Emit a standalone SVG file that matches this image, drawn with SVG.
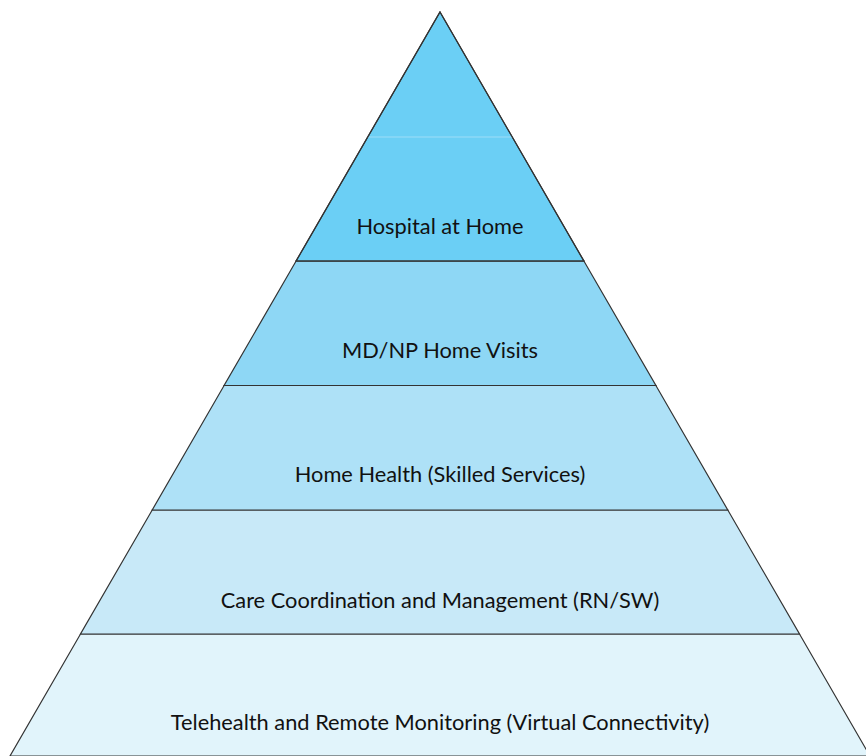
<svg xmlns="http://www.w3.org/2000/svg" width="866" height="756" viewBox="0 0 866 756">
<style>
.band{stroke:#333;stroke-width:1.2;stroke-linejoin:miter}
.lbl{font-family:Lato,"Open Sans","Liberation Sans",sans-serif;font-size:21.8px;fill:#111;text-anchor:middle}
</style>
<rect width="866" height="756" fill="#fff"/>
<g id="level5">
<polygon class="band" points="80.5,634 799.5,634 870,756 10,756" fill="#E1F4FB"/>
<text class="lbl" x="440" y="730">Telehealth and Remote Monitoring (Virtual Connectivity)</text>
</g>
<g id="level4">
<polygon class="band" points="152.2,510 727.8,510 799.5,634 80.5,634" fill="#C8E9F8"/>
<text class="lbl" x="440" y="608">Care Coordination and Management (RN/SW)</text>
</g>
<g id="level3">
<polygon class="band" points="224.1,385.5 655.9,385.5 727.8,510 152.2,510" fill="#AEE1F7"/>
<text class="lbl" x="440" y="482">Home Health (Skilled Services)</text>
</g>
<g id="level2">
<polygon class="band" points="296.1,261 583.9,261 655.9,385.5 224.1,385.5" fill="#8ED7F5"/>
<text class="lbl" x="440" y="358">MD/NP Home Visits</text>
</g>
<g id="level1">
<polygon class="band" points="440,12 583.9,261 296.1,261" fill="#6BCFF5"/>
<line x1="368.5" y1="137" x2="511.5" y2="137" stroke="#9EDDF8" stroke-width="1"/>
<polygon points="440,12 583.9,261 296.1,261" fill="none" stroke="#333" stroke-width="1.2"/>
<text class="lbl" x="440" y="234">Hospital at Home</text>
</g>
<g id="connectors"></g>
</svg>
